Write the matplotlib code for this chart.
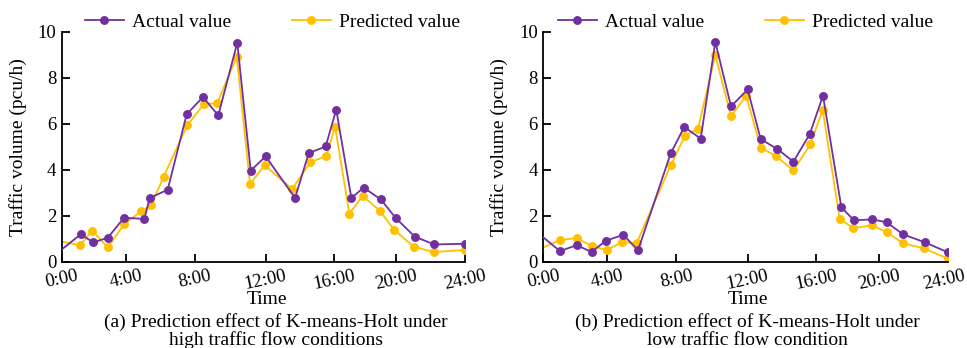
import matplotlib
matplotlib.use("Agg")
import matplotlib.pyplot as plt
import matplotlib.transforms as mtransforms

plt.rcParams['font.family'] = ['Liberation Serif', 'DejaVu Serif']
plt.rcParams['mathtext.fontset'] = 'stix'

# ---- data (hours, pcu/h) ----
high_actual_t = [0, 1.11, 1.86, 2.72, 3.69, 4.90, 5.22, 6.29, 7.42, 8.39, 9.30, 10.43,
                 11.23, 12.12, 13.87, 14.68, 15.69, 16.32, 17.22, 17.95, 18.97, 19.86,
                 20.99, 22.15, 24.0]
high_actual_v = [0.54, 1.19, 0.84, 1.04, 1.91, 1.86, 2.77, 3.13, 6.41, 7.16, 6.36, 9.52,
                 3.96, 4.58, 2.77, 4.72, 5.01, 6.61, 2.77, 3.22, 2.71, 1.90,
                 1.09, 0.75, 0.78]
high_pred_t = [0, 1.07, 1.80, 2.72, 3.71, 4.72, 5.31, 6.05, 7.46, 8.43, 9.24, 10.40,
               11.19, 12.06, 13.70, 14.78, 15.73, 16.25, 17.10, 17.89, 18.91, 19.76,
               20.93, 22.12, 24.0]
high_pred_v = [0.87, 0.72, 1.35, 0.62, 1.64, 2.20, 2.45, 3.70, 5.93, 6.84, 6.90, 8.91,
               3.38, 4.19, 3.16, 4.33, 4.59, 5.87, 2.09, 2.86, 2.22, 1.39,
               0.65, 0.42, 0.51]

low_actual_t = [0, 0.99, 1.98, 2.87, 3.70, 4.75, 5.62, 7.56, 8.37, 9.34, 10.21,
                11.14, 12.13, 12.90, 13.89, 14.84, 15.81, 16.60, 17.69, 18.44, 19.53,
                20.38, 21.35, 22.65, 24.0]
low_actual_v = [1.06, 0.46, 0.72, 0.42, 0.91, 1.17, 0.49, 4.71, 5.86, 5.35, 9.55,
                6.75, 7.49, 5.33, 4.90, 4.35, 5.54, 7.22, 2.36, 1.80, 1.84,
                1.71, 1.19, 0.84, 0.41]
low_pred_t = [0, 0.99, 1.98, 2.87, 3.76, 4.65, 5.54, 7.58, 8.41, 9.18, 10.21,
              11.14, 12.04, 12.90, 13.83, 14.84, 15.85, 16.58, 17.59, 18.40, 19.51,
              20.38, 21.35, 22.58, 24.0]
low_pred_v = [0.62, 0.94, 1.03, 0.68, 0.51, 0.84, 0.81, 4.22, 5.48, 5.78, 8.99,
              6.32, 7.22, 4.96, 4.58, 3.97, 5.10, 6.61, 1.86, 1.46, 1.58,
              1.28, 0.80, 0.58, 0.14]

tick_labels = ["0:00", "4:00", "8:00", "12:00", "16:00", "20:00", "24:00"]
tick_hours = [0, 3.8, 7.9, 12.12, 16.2, 19.9, 24]
series_names = ["Actual value", "Predicted value"]
captions = ["(a) Prediction effect of K-means-Holt under\nhigh traffic flow conditions",
            "(b) Prediction effect of K-means-Holt under\nlow traffic flow condition"]

PURPLE = "#7030A0"
YELLOW = "#FFC000"
FS = 14
TFS = 13.5

W, H = 967, 348
fig = plt.figure(figsize=(W / 100, H / 100), dpi=100)

def px_axes(x0, x1, ytop, ybot):
    return fig.add_axes([x0 / W, 1 - ybot / H, (x1 - x0) / W, (ybot - ytop) / H])

axes = [px_axes(62, 465.3, 31.7, 261.7), px_axes(543.3, 947.7, 31.7, 261.7)]
panels = [(high_actual_t, high_actual_v, high_pred_t, high_pred_v),
          (low_actual_t, low_actual_v, low_pred_t, low_pred_v)]
leg_x = [0.522, 0.5]
time_x = [267, 748]
cap_x = [276, 747]

for i, (ax, (at, av, pt, pv)) in enumerate(zip(axes, panels)):
    ax.plot(at, av, color=PURPLE, lw=1.3, marker='o', ms=5.4, mec=PURPLE,
            markevery=list(range(1, len(at))), label=series_names[0], zorder=3)
    ax.plot(pt, pv, color=YELLOW, lw=1.3, marker='o', ms=5.4, mec=YELLOW,
            markevery=list(range(1, len(pt))), label=series_names[1], zorder=2)
    ax.set_xlim(0, 24)
    ax.set_ylim(0, 10)
    ax.set_yticks([0, 2, 4, 6, 8, 10])
    ax.set_xticks(tick_hours)
    ax.set_xticklabels(tick_labels, rotation=12, ha='center')
    for s in ['top', 'right']:
        ax.spines[s].set_visible(False)
    for s in ['left', 'bottom']:
        ax.spines[s].set_linewidth(1.3)
    ax.tick_params(direction='in', length=6, width=1.3, labelsize=TFS, pad=4)
    ax.set_ylabel("Traffic volume (pcu/h)", fontsize=FS, labelpad=4)
    ax.yaxis.set_label_coords(-0.088, 0.5)
    ax.legend(loc='center', bbox_to_anchor=(leg_x[i], 1.04), ncol=2, frameon=False,
              fontsize=FS, handlelength=2.0, handletextpad=0.45, columnspacing=3.1,
              borderaxespad=0, borderpad=0)
    fig.text(time_x[i] / W, 1 - 299 / H, "Time", ha='center', va='center', fontsize=FS)
    fig.text(cap_x[i] / W, 1 - 331 / H, captions[i], ha='center', va='center',
             fontsize=FS, linespacing=1.05)

# keep the last tick label of the right panel inside the canvas
last = axes[1].get_xticklabels()[-1]
last.set_transform(last.get_transform() +
                   mtransforms.ScaledTranslation(-4 / 100, 0, fig.dpi_scale_trans))

fig.savefig("out.png", dpi=100)
